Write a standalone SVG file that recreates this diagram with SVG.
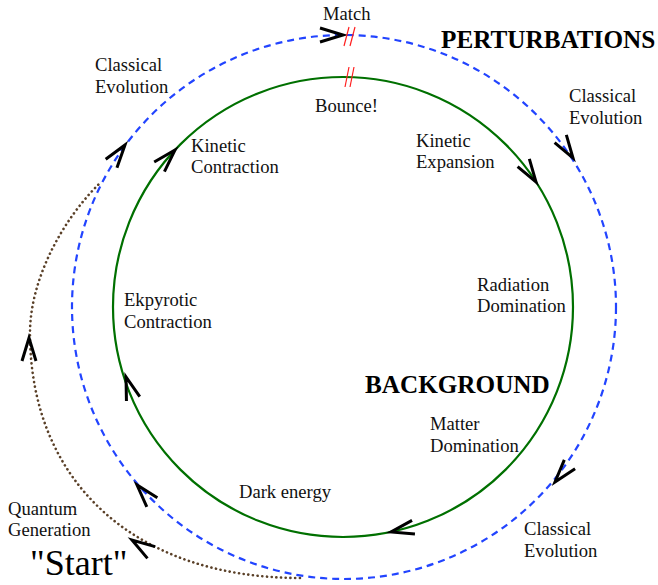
<svg xmlns="http://www.w3.org/2000/svg" xmlns:xlink="http://www.w3.org/1999/xlink" width="658" height="585" viewBox="0 0 658 585">
<style>
text{font-family:"Liberation Serif","Times New Roman",serif;font-size:18.6px;fill:#111}
.big{font-weight:bold;font-size:25.2px;fill:#000}
.start{font-size:36px;fill:#000}
.bg{fill:none;stroke:#007000;stroke-width:2.2}
.pt{fill:none;stroke:#2244ff;stroke-width:2.2;stroke-dasharray:7 5}
.qg{fill:none;stroke:#5a4028;stroke-width:2.6;stroke-dasharray:0.1 4.6;stroke-linecap:round}
.arr{fill:none;stroke:#000;stroke-width:3}
.brk{stroke:#ff2020;stroke-width:1.2}
</style>
<defs>
<path id="chev" d="M -23 -7 L 0 0 L -23 7"/>
</defs>
<rect width="658" height="585" fill="#fff"/>
<g id="connectors">
<circle class="pt" cx="344" cy="307" r="272"/>
<circle class="bg" cx="343" cy="307" r="230"/>
<path class="qg" d="M 300 578 C 135 578 30 482 30 333 C 30 280 62 220 100 183"/>
<g class="arr">
<use xlink:href="#chev" transform="translate(343,35) rotate(0)"/>
<use xlink:href="#chev" transform="translate(125,145) rotate(-53.5)"/>
<use xlink:href="#chev" transform="translate(175,150) rotate(-47)"/>
<use xlink:href="#chev" transform="translate(536,182) rotate(57)"/>
<use xlink:href="#chev" transform="translate(573,158) rotate(57)"/>
<use xlink:href="#chev" transform="translate(126,377) rotate(-108)"/>
<use xlink:href="#chev" transform="translate(29,338) rotate(-90)"/>
<use xlink:href="#chev" transform="translate(555,482) rotate(129.7)"/>
<use xlink:href="#chev" transform="translate(391,532) rotate(168)"/>
<use xlink:href="#chev" transform="translate(137,485) rotate(-131)"/>
<use xlink:href="#chev" transform="translate(132,540) rotate(-147)"/>
</g>
<g class="brk">
<line x1="344" y1="46" x2="349" y2="27"/>
<line x1="350" y1="46" x2="355" y2="27"/>
<line x1="345" y1="87" x2="349" y2="67"/>
<line x1="350" y1="87" x2="354" y2="67"/>
</g>
</g>
<g id="match"><text x="323" y="20">Match</text></g>
<g id="perturbations"><text class="big" x="441" y="48">PERTURBATIONS</text></g>
<g id="bounce"><text x="315" y="112">Bounce!</text></g>
<g id="classical-evolution-tl"><text x="95" y="71">Classical</text><text x="95" y="93">Evolution</text></g>
<g id="kinetic-contraction"><text x="191" y="152">Kinetic</text><text x="191" y="173">Contraction</text></g>
<g id="kinetic-expansion"><text x="416" y="147">Kinetic</text><text x="416" y="168">Expansion</text></g>
<g id="classical-evolution-tr"><text x="569" y="102">Classical</text><text x="569" y="124">Evolution</text></g>
<g id="ekpyrotic-contraction"><text x="124" y="306">Ekpyrotic</text><text x="124" y="328">Contraction</text></g>
<g id="radiation-domination"><text x="477" y="291">Radiation</text><text x="477" y="312">Domination</text></g>
<g id="background"><text class="big" x="365" y="393">BACKGROUND</text></g>
<g id="matter-domination"><text x="430" y="430">Matter</text><text x="430" y="452">Domination</text></g>
<g id="dark-energy"><text x="239" y="498">Dark energy</text></g>
<g id="quantum-generation"><text x="8" y="515">Quantum</text><text x="8" y="536">Generation</text></g>
<g id="start"><text class="start" x="30" y="575">"Start"</text></g>
<g id="classical-evolution-br"><text x="524" y="535">Classical</text><text x="524" y="557">Evolution</text></g>
</svg>
